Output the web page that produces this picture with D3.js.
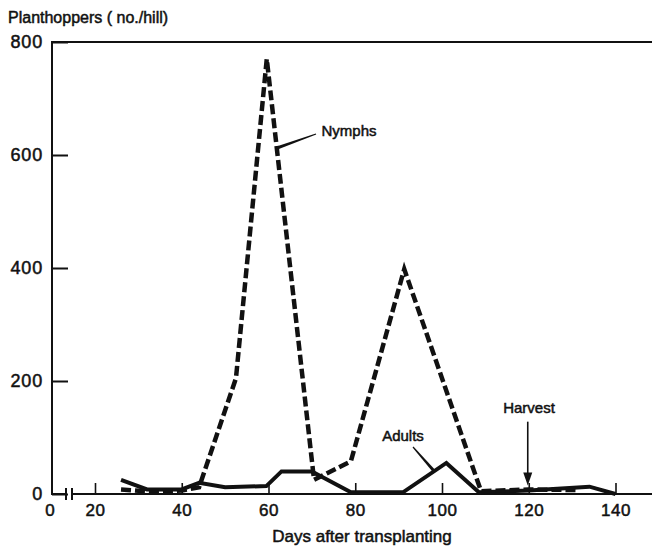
<!DOCTYPE html>
<html>
<head>
<meta charset="utf-8">
<script src="https://cdn.jsdelivr.net/npm/d3@7"></script>
<style>
  html, body { margin: 0; padding: 0; background: #fff; }
  svg text { font-family: "Liberation Sans", Arial, sans-serif; fill: #111; stroke: #111; stroke-width: 0.5px; }
</style>
</head>
<body>
<svg id="chart" width="652" height="547"></svg>
<script>
// Planthopper counts per hill over the season
const nymphDays   = [26, 33, 40, 44, 52.5, 59.6, 70.5, 79, 91.3, 109, 120, 131];
const nymphCounts = [8, 4, 6, 12, 205, 770, 25, 58, 398, 5, 8, 7];

const adultDays   = [26, 32, 40, 44, 50, 59.5, 63, 70, 79, 91, 101, 108.5, 120, 134, 140];
const adultCounts = [25, 8, 8, 20, 12, 14, 40, 40, 3, 3, 55, 3, 6, 13, 0];

const xTicks = [20, 40, 60, 80, 100, 120, 140];
const xTickLabels = ["20", "40", "60", "80", "100", "120", "140"];
const yTicks = [0, 200, 400, 600, 800];
const yTickLabels = ["0", "200", "400", "600", "800"];
const harvestDay = 120;

const svg = d3.select("#chart");
const W = 652, H = 547;
const axisLeftX = 52, axisBottomY = 494, plotTopY = 42;

const x = d3.scaleLinear().domain([20, 140]).range([95, 615.5]);
const y = d3.scaleLinear().domain([0, 800]).range([axisBottomY, plotTopY]);

svg.append("rect").attr("width", W).attr("height", H).attr("fill", "#fff");

// Frame: left spine, top rule, bottom axis with a break near the origin
const frame = svg.append("g").attr("stroke", "#111").attr("stroke-width", 2).attr("fill", "none");
frame.append("line").attr("x1", axisLeftX).attr("x2", axisLeftX).attr("y1", plotTopY).attr("y2", axisBottomY);
frame.append("line").attr("x1", axisLeftX - 1).attr("x2", W).attr("y1", plotTopY).attr("y2", plotTopY);
frame.append("line").attr("x1", axisLeftX - 1).attr("x2", 66).attr("y1", axisBottomY).attr("y2", axisBottomY);
frame.append("line").attr("x1", 72).attr("x2", W).attr("y1", axisBottomY).attr("y2", axisBottomY);
[66, 72].forEach(bx => {
  frame.append("line").attr("x1", bx).attr("x2", bx).attr("y1", axisBottomY - 6).attr("y2", axisBottomY + 6);
});

// Y axis ticks point into the plot
const yAxis = d3.axisLeft(y)
  .tickValues(yTicks)
  .tickFormat((d, i) => yTickLabels[i])
  .tickSize(-16)
  .tickPadding(9);
const gy = svg.append("g").attr("transform", `translate(${axisLeftX},0)`).call(yAxis);
gy.select(".domain").remove();
gy.selectAll(".tick line").attr("stroke", "#111").attr("stroke-width", 2);
gy.selectAll(".tick text").attr("font-size", 18).attr("letter-spacing", 0.8)
  .style("font-family", "Liberation Sans, Arial, sans-serif");

// X axis ticks point up into the plot
const xAxis = d3.axisBottom(x)
  .tickValues(xTicks)
  .tickFormat((d, i) => xTickLabels[i])
  .tickSize(-11)
  .tickPadding(10);
const gx = svg.append("g").attr("transform", `translate(0,${axisBottomY})`).call(xAxis);
gx.select(".domain").remove();
gx.selectAll(".tick line").attr("stroke", "#111").attr("stroke-width", 1.6);
gx.selectAll(".tick text").attr("font-size", 17).attr("letter-spacing", 0.5)
  .style("font-family", "Liberation Sans, Arial, sans-serif");

// Origin label sits under the corner, left of the break
svg.append("text").attr("x", 50).attr("y", axisBottomY + 10).attr("dy", "0.71em")
  .attr("text-anchor", "middle").attr("font-size", 17).text("0");

// Axis titles
svg.append("text").attr("x", 8).attr("y", 23).attr("font-size", 16).text("Planthoppers ( no./hill)");
svg.append("text").attr("x", 362).attr("y", 542).attr("text-anchor", "middle")
  .attr("font-size", 17).text("Days after transplanting");

// Series lines
const line = d3.line().x(d => x(d[0])).y(d => y(d[1]));
const nymphs = d3.zip(nymphDays, nymphCounts);
const adults = d3.zip(adultDays, adultCounts);

svg.append("path").datum(adults)
  .attr("d", line).attr("fill", "none").attr("stroke", "#111")
  .attr("stroke-width", 4).attr("stroke-linejoin", "miter");

svg.append("path").datum(nymphs)
  .attr("d", line).attr("fill", "none").attr("stroke", "#111")
  .attr("stroke-width", 4.5).attr("stroke-dasharray", "10,4")
  .attr("stroke-linejoin", "miter");

// Tapered leader from a label to its series
function leader(x1, y1, x2, y2, w1, w2) {
  const dx = x2 - x1, dy = y2 - y1, len = Math.hypot(dx, dy);
  const nx = -dy / len, ny = dx / len;
  const pts = [
    [x1 + nx * w1 / 2, y1 + ny * w1 / 2],
    [x2 + nx * w2 / 2, y2 + ny * w2 / 2],
    [x2 - nx * w2 / 2, y2 - ny * w2 / 2],
    [x1 - nx * w1 / 2, y1 - ny * w1 / 2]
  ];
  svg.append("path").attr("d", "M" + pts.join("L") + "Z").attr("fill", "#111");
}

// Nymphs label
svg.append("text").attr("x", 349).attr("y", 136).attr("text-anchor", "middle")
  .attr("font-size", 15).text("Nymphs");
leader(316, 134, 277, 148, 1.2, 3.4);

// Adults label
svg.append("text").attr("x", 403).attr("y", 441).attr("text-anchor", "middle")
  .attr("font-size", 15).text("Adults");
leader(413, 447, 434, 471, 1.2, 3.2);

// Harvest marker
svg.append("text").attr("x", 529).attr("y", 413).attr("text-anchor", "middle")
  .attr("font-size", 15).text("Harvest");
const hx = x(harvestDay) - 1;
const tipY = y(15);
svg.append("line").attr("x1", hx).attr("x2", hx).attr("y1", y(128)).attr("y2", tipY - 10)
  .attr("stroke", "#111").attr("stroke-width", 1.6);
svg.append("path")
  .attr("d", `M${hx - 4.5},${tipY - 13}L${hx + 4.5},${tipY - 13}L${hx},${tipY}Z`)
  .attr("fill", "#111");
</script>
</body>
</html>
